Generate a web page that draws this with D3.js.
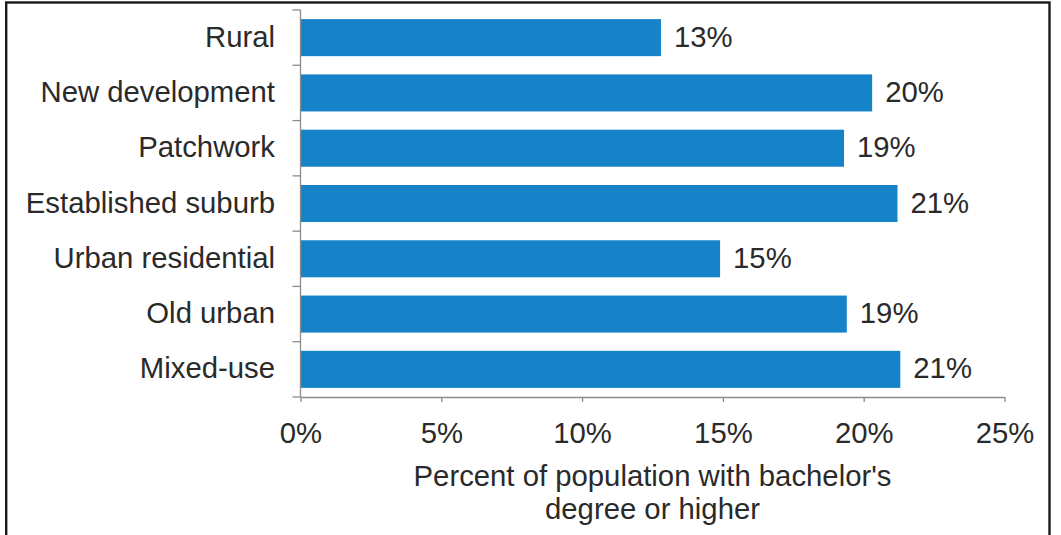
<!DOCTYPE html>
<html>
<head>
<meta charset="utf-8">
<script src="https://cdn.jsdelivr.net/npm/d3@7"></script>
<style>
  html, body { margin: 0; padding: 0; background: #fff; }
  svg { display: block; }
  text { font-family: "Liberation Sans", Arial, sans-serif; fill: #2a2a2a; }
</style>
</head>
<body>
<svg id="chart" width="1061" height="535"></svg>
<script>
// Neighborhood types, top to bottom
const categories = [
  "Rural",
  "New development",
  "Patchwork",
  "Established suburb",
  "Urban residential",
  "Old urban",
  "Mixed-use"
];
// Share of residents holding a bachelor's degree or higher (%)
const values = [12.8, 20.3, 19.3, 21.2, 14.9, 19.4, 21.3];
const xTicks = [0, 5, 10, 15, 20, 25];
const axisTitle = ["Percent of population with bachelor's", "degree or higher"];

const W = 1061, H = 535;
const plot = { left: 300.5, right: 1004.5, top: 10, bottom: 397 };
const fontSize = 29.3;

const svg = d3.select("#chart");

// outer frame
svg.append("rect")
  .attr("x", 6.2).attr("y", 2.5)
  .attr("width", 1049.5 - 6.2).attr("height", H + 10)
  .attr("fill", "none").attr("stroke", "#1a1a1a").attr("stroke-width", 2.4);

const x = d3.scaleLinear().domain([0, 25]).range([plot.left, plot.right]);
const y = d3.scaleBand().domain(categories)
  .range([plot.top, plot.bottom]).paddingInner(0.33).paddingOuter(0.165);

const data = categories.map((c, i) => ({ c, v: values[i] }));

// bars
svg.append("g").selectAll("rect").data(data).join("rect")
  .attr("x", x(0))
  .attr("y", d => y(d.c))
  .attr("width", d => x(d.v) - x(0))
  .attr("height", y.bandwidth())
  .attr("fill", "#1683c9");

// value labels
const fmt = v => d3.format(".0f")(v) + "%";
svg.append("g").selectAll("text").data(data).join("text")
  .attr("x", d => x(d.v) + 13)
  .attr("y", d => y(d.c) + y.bandwidth() / 2 + 9)
  .attr("font-size", fontSize)
  .text(d => fmt(d.v));

// x axis
const xAxis = svg.append("g")
  .attr("transform", `translate(0,${plot.bottom})`)
  .call(d3.axisBottom(x).tickValues(xTicks).tickFormat(d => d + "%")
    .tickSizeInner(5).tickSizeOuter(0));
xAxis.select(".domain").attr("stroke", "#8c8c8c").attr("stroke-width", 1.3);
xAxis.selectAll(".tick line").attr("stroke", "#8c8c8c").attr("stroke-width", 1.3);
xAxis.selectAll(".tick text")
  .attr("font-size", fontSize)
  .attr("font-family", "Liberation Sans, Arial, sans-serif")
  .attr("fill", "#2a2a2a")
  .attr("dy", null)
  .attr("y", 46);

// y axis: vertical line with ticks at category boundaries
const yAxis = svg.append("g");
yAxis.append("line")
  .attr("x1", plot.left).attr("x2", plot.left)
  .attr("y1", plot.top).attr("y2", plot.bottom)
  .attr("stroke", "#8c8c8c").attr("stroke-width", 1.3);
const bounds = d3.range(categories.length + 1)
  .map(i => plot.top + i * (plot.bottom - plot.top) / categories.length);
yAxis.selectAll("line.tk").data(bounds).join("line")
  .attr("class", "tk")
  .attr("x1", plot.left - 8).attr("x2", plot.left)
  .attr("y1", d => d).attr("y2", d => d)
  .attr("stroke", "#8c8c8c").attr("stroke-width", 1.3);

// category labels
svg.append("g").selectAll("text").data(categories).join("text")
  .attr("x", 275)
  .attr("y", d => y(d) + y.bandwidth() / 2 + 9)
  .attr("text-anchor", "end")
  .attr("font-size", fontSize)
  .text(d => d);

// axis title
const cx = (plot.left + plot.right) / 2;
svg.append("g").selectAll("text").data(axisTitle).join("text")
  .attr("x", cx)
  .attr("y", (d, i) => 486 + i * 33)
  .attr("text-anchor", "middle")
  .attr("font-size", fontSize)
  .text(d => d);
</script>
</body>
</html>
